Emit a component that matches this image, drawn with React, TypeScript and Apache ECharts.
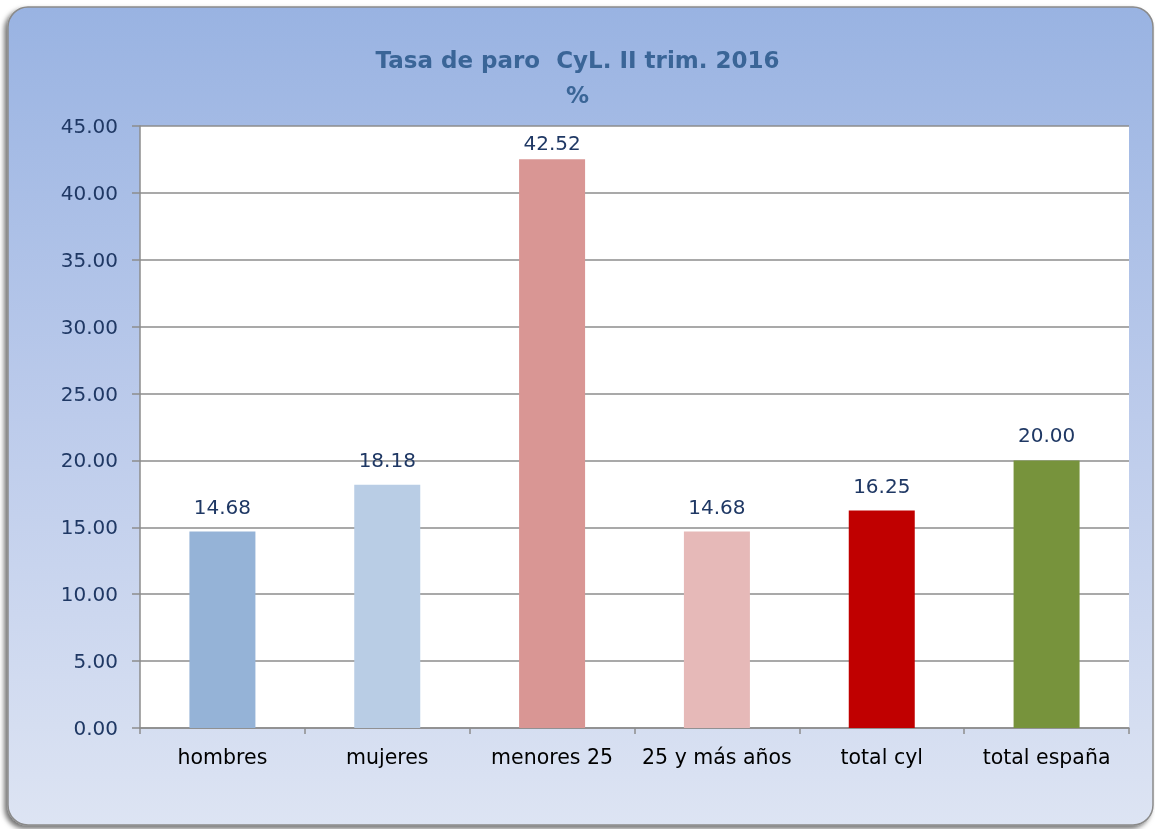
import React, { useEffect, useRef } from "react";
import * as echarts from "echarts";

const categories = ["hombres", "mujeres", "menores 25", "25 y más años", "total cyl", "total españa"];
const values = [14.68, 18.18, 42.52, 14.68, 16.25, 20.0];
const barColors = ["#95b3d7", "#b9cde5", "#d99694", "#e6b9b8", "#c00000", "#77933c"];
const titleLines = ["Tasa de paro  CyL. II trim. 2016", "%"];

export default function App() {
  const ref = useRef<HTMLDivElement>(null);
  useEffect(() => {
    if (!ref.current) return;
    const chart = echarts.init(ref.current, null, { renderer: "svg" });
    const font = "DejaVu Sans";
    chart.setOption({
      animation: false,
      textStyle: { fontFamily: font },
      graphic: [
        {
          type: "rect",
          z: -10,
          shape: { x: 8, y: 7, width: 1145, height: 818, r: 20 },
          style: {
            fill: new echarts.graphic.LinearGradient(0, 0, 0, 1, [
              { offset: 0, color: "#99b3e2" },
              { offset: 0.5, color: "#bccbeb" },
              { offset: 1, color: "#dde4f3" },
            ]),
            stroke: "#8a8a8a",
            lineWidth: 1.5,
            shadowBlur: 5,
            shadowOffsetX: -3,
            shadowOffsetY: 3,
            shadowColor: "rgba(0,0,0,0.55)",
          },
        },
      ],
      title: {
        text: titleLines.join("\n"),
        left: "center",
        top: 37,
        textStyle: {
          fontFamily: font,
          fontSize: 23,
          fontWeight: "bold",
          color: "#3a6597",
          lineHeight: 35,
        },
      },
      grid: {
        left: 140,
        top: 126,
        right: 26,
        bottom: 101,
        show: true,
        backgroundColor: "#ffffff",
        borderWidth: 0,
      },
      xAxis: {
        type: "category",
        data: categories,
        axisLine: { show: true, lineStyle: { color: "#8c8c8c", width: 1.5 } },
        axisTick: { show: true, length: 6, lineStyle: { color: "#8c8c8c", width: 1.5 } },
        axisLabel: { color: "#000000", fontSize: 20.5, margin: 18, interval: 0, fontFamily: font },
      },
      yAxis: {
        type: "value",
        min: 0,
        max: 45,
        interval: 5,
        axisLine: { show: true, lineStyle: { color: "#8c8c8c", width: 1.5 } },
        axisTick: { show: true, length: 8, lineStyle: { color: "#8c8c8c", width: 1.5 } },
        axisLabel: {
          color: "#1f3864",
          fontSize: 20,
          margin: 22,
          fontFamily: font,
          formatter: (v: number) => v.toFixed(2),
        },
        splitLine: { show: true, lineStyle: { color: "#8c8c8c", width: 1.5 } },
      },
      series: [
        {
          type: "bar",
          barWidth: 66,
          data: values.map((v, i) => ({
            value: v,
            itemStyle: { color: barColors[i] },
            label: { distance: v > 40 ? 6 : 15 },
          })),
          label: {
            show: true,
            position: "top",
            distance: 15,
            color: "#1f3864",
            fontSize: 20,
            fontFamily: font,
            formatter: (p: any) => Number(p.value).toFixed(2),
          },
        },
      ],
    });
    return () => chart.dispose();
  }, []);
  return (
    <div
      ref={ref}
      style={{ position: "fixed", left: 0, top: 0, width: 1155, height: 829 }}
    />
  );
}
